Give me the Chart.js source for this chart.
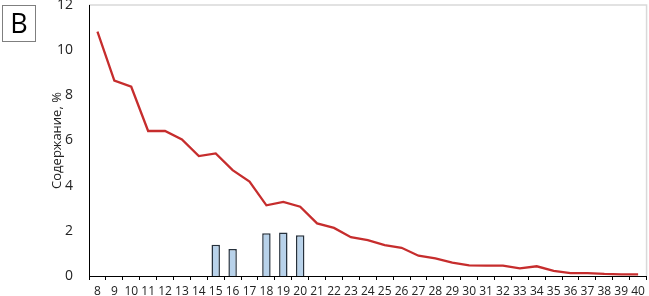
<!DOCTYPE html>
<html>
<head>
<meta charset="utf-8">
<script src="https://cdn.jsdelivr.net/npm/chart.js@4"></script>
<style>
  body { margin: 0; background: #fff; }
  #wrap { position: relative; width: 649px; height: 296px; }
  #tag {
    position: absolute; left: 2px; top: 5px; width: 34px; height: 37px;
    border: 1px solid #7f7f7f; box-sizing: border-box;
    font: 27px "Open Sans", sans-serif; line-height: 34px; text-align: center; color: #000;
  }
</style>
</head>
<body>
<div id="wrap">
  <canvas id="mycan1" width="649" height="296"></canvas>
  <div id="tag">В</div>
</div>
<script>
var sizes = ['8','9','10','11','12','13','14','15','16','17','18','19','20','21','22','23','24',
             '25','26','27','28','29','30','31','32','33','34','35','36','37','38','39','40'];
var lineVals = [10.82, 8.65, 8.38, 6.42, 6.42, 6.05, 5.31, 5.43, 4.69, 4.18, 3.13, 3.28, 3.07,
                2.33, 2.13, 1.72, 1.59, 1.37, 1.25, 0.9, 0.78, 0.59, 0.47, 0.46, 0.46,
                0.34, 0.43, 0.23, 0.13, 0.13, 0.09, 0.07, 0.07];
var barVals = [null, null, null, null, null, null, null, 1.38, 1.2, null, 1.89, 1.93, 1.8,
               null, null, null, null, null, null, null, null, null, null, null, null,
               null, null, null, null, null, null, null, null];
var yTicks = [0, 2, 4, 6, 8, 10, 12];

// grey frame on top and right of the plot
var framePlugin = {
  id: 'frame',
  beforeDraw: function(chart) {
    var a = chart.chartArea, c = chart.ctx;
    c.save();
    c.strokeStyle = '#d9d9d9';
    c.lineWidth = 1.5;
    c.beginPath();
    c.moveTo(a.left, a.top);
    c.lineTo(a.right, a.top);
    c.lineTo(a.right, a.bottom);
    c.stroke();
    c.restore();
  }
};

var ctx = document.getElementById('mycan1');
var chart = new Chart(ctx, {
  type: 'bar',
  data: {
    labels: sizes,
    datasets: [
      {
        type: 'line',
        data: lineVals,
        borderColor: '#c62d2d',
        borderWidth: 2.3,
        pointRadius: 0,
        tension: 0,
        order: 0
      },
      {
        type: 'bar',
        data: barVals,
        backgroundColor: '#b8d2ea',
        borderColor: '#26313c',
        borderWidth: 1.5,
        barPercentage: 0.5,
        categoryPercentage: 1,
        order: 1
      }
    ]
  },
  options: {
    responsive: false,
    animation: false,
    layout: { padding: { top: 0, right: 1, left: 0, bottom: 0 } },
    plugins: { legend: { display: false }, tooltip: { enabled: false } },
    scales: {
      x: {
        offset: true,
        grid: { display: true, offset: true, drawOnChartArea: false, tickLength: 4, tickColor: '#000' },
        border: { color: '#000', width: 1 },
        ticks: { color: '#222', font: { family: 'Open Sans', size: 12 }, padding: 4, maxRotation: 0, autoSkip: false },
        afterFit: function(s) { s.height = 20; }
      },
      y: {
        min: 0, max: 12,
        afterBuildTicks: function(s) { s.ticks = yTicks.map(function(v) { return { value: v }; }); },
        grid: { display: false },
        border: { color: '#000', width: 1 },
        ticks: { color: '#222', font: { family: 'Open Sans', size: 14 }, padding: 8 },
        title: { display: true, text: 'Содержание, %', color: '#222', font: { family: 'Open Sans', size: 13 }, padding: { top: 49, bottom: 0 } },
        afterFit: function(s) { s.width = 89; s.paddingTop = 5; }
      }
    }
  },
  plugins: [framePlugin]
});
</script>
</body>
</html>
